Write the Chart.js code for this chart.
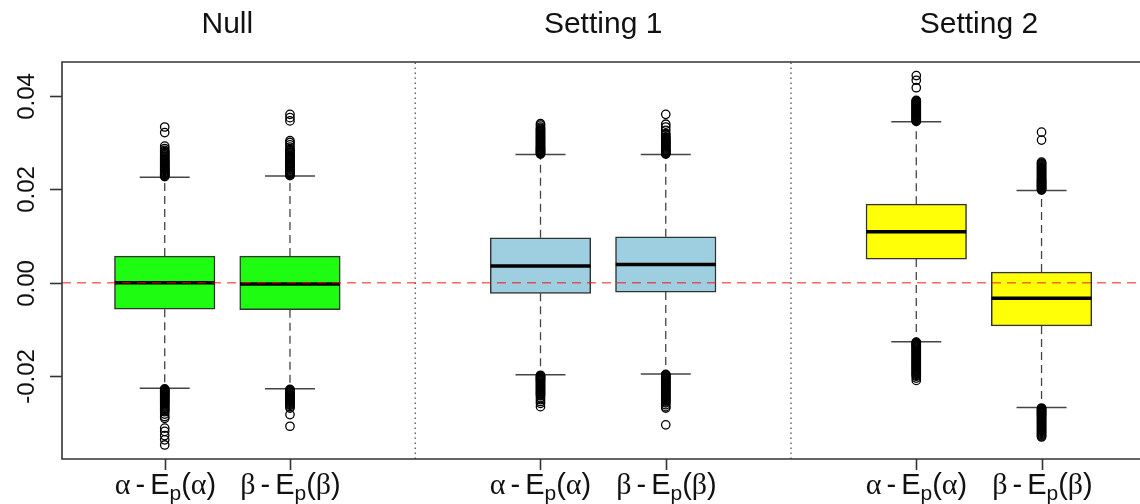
<!DOCTYPE html>
<html>
<head>
<meta charset="utf-8">
<script src="https://cdn.jsdelivr.net/npm/chart.js@4.4.1/dist/chart.umd.min.js"></script>
<style>
  html, body { margin: 0; padding: 0; background: #fff; }
  canvas { display: block; }
</style>
</head>
<body>
<canvas id="boxChart" width="1140" height="504"></canvas>
<script>
// ---- data ----
const panelTitles = ['Null', 'Setting 1', 'Setting 2'];
const tickLabels = ['α - E_p(α)', 'β - E_p(β)', 'α - E_p(α)', 'β - E_p(β)', 'α - E_p(α)', 'β - E_p(β)'];
const boxPositions = [1, 2, 4, 5, 7, 8];

const lowerWhisker = [-0.02255, -0.0227, -0.0197, -0.0195, -0.0126, -0.0267];
const q1 = [-0.00568, -0.00576, -0.00227, -0.00200, 0.00506, -0.00924];
const medians = [0.0000, -0.0003, 0.00357, 0.0039, 0.01089, -0.00333];
const q3 = [0.0057, 0.0057, 0.0096, 0.00982, 0.0168, 0.00228];
const upperWhisker = [0.02256, 0.0228, 0.0274, 0.0274, 0.0344, 0.0197];

// outliers: the dense part next to the caps has many overlapping points
const outNullAlpha = [0.0227, 0.0230, 0.0233, 0.0236, 0.0240, 0.0243, 0.0247, 0.0251, 0.0255, 0.0259,
  0.0263, 0.0268, 0.0273, 0.0278, 0.0283, 0.0287, 0.0292, 0.0321, 0.0333,
  0.02285, 0.02315, 0.02345, 0.0238, 0.02415, 0.0245, 0.0249, 0.0253, 0.0257, 0.0261, 0.0265,
  0.02705, 0.02755, 0.02805,
  -0.0227, -0.0230, -0.0233, -0.0237, -0.0240, -0.0244, -0.0248, -0.0252, -0.0256, -0.0261,
  -0.0266, -0.0271, -0.0276, -0.0281, -0.0286, -0.0290, -0.0311, -0.0318, -0.0327, -0.0336, -0.0347,
  -0.02285, -0.02315, -0.0235, -0.02385, -0.0242, -0.0246, -0.0250, -0.0254, -0.02585, -0.02635,
  -0.02685, -0.02735];
const outNullBeta = [0.0229, 0.0232, 0.0235, 0.0239, 0.0243, 0.0247, 0.0251, 0.0255, 0.0260, 0.0265,
  0.0270, 0.0275, 0.0280, 0.0285, 0.0290, 0.0295, 0.0300, 0.0304, 0.0346, 0.0353, 0.0360,
  0.02305, 0.02335, 0.0237, 0.0241, 0.0245, 0.0249, 0.0253, 0.02575, 0.02625, 0.02675, 0.02725,
  0.02775, 0.02825,
  -0.0228, -0.0231, -0.0234, -0.0238, -0.0242, -0.0246, -0.0250, -0.0254, -0.0258, -0.0262,
  -0.0265, -0.0268, -0.0282, -0.0307,
  -0.02295, -0.02325, -0.0236, -0.0240, -0.0244, -0.0248, -0.0252, -0.0256, -0.0260];
const outSet1Alpha = [0.0275, 0.0278, 0.0281, 0.0284, 0.0287, 0.0290, 0.0294, 0.0298, 0.0302, 0.0306,
  0.0310, 0.0314, 0.0318, 0.0322, 0.0326, 0.0330, 0.0333, 0.0337, 0.0340,
  0.02765, 0.02795, 0.02825, 0.02855, 0.02885, 0.0292, 0.0296, 0.0300, 0.0304, 0.0308, 0.0312,
  0.0316, 0.0320, 0.0324, 0.0328,
  -0.0198, -0.0201, -0.0204, -0.0207, -0.0210, -0.0214, -0.0218, -0.0222, -0.0226, -0.0230,
  -0.0234, -0.0238, -0.0242, -0.0246, -0.0250, -0.0254, -0.0258, -0.0265,
  -0.01995, -0.02025, -0.02055, -0.02085, -0.0212, -0.0216, -0.0220, -0.0224, -0.0228, -0.0232,
  -0.0236, -0.0240];
const outSet1Beta = [0.0275, 0.0278, 0.0281, 0.0284, 0.0288, 0.0292, 0.0296, 0.0300, 0.0304, 0.0308,
  0.0312, 0.0316, 0.0319, 0.0326, 0.0333, 0.0339, 0.0360,
  0.02765, 0.02795, 0.02825, 0.0286, 0.0290, 0.0294, 0.0298, 0.0302, 0.0306, 0.0310,
  -0.0196, -0.0199, -0.0202, -0.0205, -0.0209, -0.0213, -0.0217, -0.0221, -0.0225, -0.0229,
  -0.0233, -0.0237, -0.0241, -0.0245, -0.0249, -0.0253, -0.0257, -0.0261, -0.0265, -0.0268, -0.0304,
  -0.01975, -0.02005, -0.02035, -0.0207, -0.0211, -0.0215, -0.0219, -0.0223, -0.0227, -0.0231,
  -0.0235, -0.0239, -0.0243, -0.0247, -0.0251, -0.0255];
const outSet2Alpha = [0.0345, 0.0348, 0.0351, 0.0354, 0.0357, 0.0360, 0.0363, 0.0366, 0.0369, 0.0372,
  0.0375, 0.0378, 0.0381, 0.0384, 0.0387, 0.0390, 0.0417, 0.0433, 0.0443,
  0.03465, 0.03495, 0.03525, 0.03555, 0.03585, 0.03615, 0.03645, 0.03675, 0.03705, 0.03735,
  0.03765, 0.03795, 0.03825, 0.03855, 0.03885,
  -0.0127, -0.0130, -0.0133, -0.0136, -0.0140, -0.0144, -0.0148, -0.0152, -0.0156, -0.0160,
  -0.0164, -0.0168, -0.0172, -0.0176, -0.0180, -0.0184, -0.0188, -0.0192, -0.0196, -0.0200,
  -0.0204, -0.0209,
  -0.01285, -0.01315, -0.01345, -0.0138, -0.0142, -0.0146, -0.0150, -0.0154, -0.0158, -0.0162,
  -0.0166, -0.0170, -0.0174, -0.0178, -0.0182, -0.0186, -0.0190, -0.0194, -0.0198];
const outSet2Beta = [0.0198, 0.0201, 0.0204, 0.0207, 0.0210, 0.0213, 0.0216, 0.0219, 0.0222, 0.0226,
  0.0230, 0.0234, 0.0238, 0.0242, 0.0246, 0.0250, 0.0254, 0.0258, 0.0305, 0.0322,
  0.01995, 0.02025, 0.02055, 0.02085, 0.02115, 0.02145, 0.02175, 0.02205, 0.0224, 0.0228,
  0.0232, 0.0236, 0.0240, 0.0244, 0.0248, 0.0252, 0.0256,
  -0.0268, -0.0271, -0.0274, -0.0277, -0.0280, -0.0283, -0.0286, -0.0290, -0.0294, -0.0298,
  -0.0302, -0.0306, -0.0310, -0.0314, -0.0318, -0.0322, -0.0326, -0.0330,
  -0.02695, -0.02725, -0.02755, -0.02785, -0.02815, -0.02845, -0.0288, -0.0292, -0.0296, -0.0300,
  -0.0304, -0.0308, -0.0312, -0.0316, -0.0320, -0.0324, -0.0328];
const outliers = [outNullAlpha, outNullBeta, outSet1Alpha, outSet1Beta, outSet2Alpha, outSet2Beta];

const yTickValues = [-0.02, 0, 0.02, 0.04];
const yTickLabels = ['-0.02', '0.00', '0.02', '0.04'];
const referenceLine = 0;

// ---- styling ----
const boxFill = ['#1efc12', '#1efc12', '#9ecfe0', '#9ecfe0', '#ffff08', '#ffff08'];
const Y_MIN = -0.0377, Y_MAX = 0.0472;
const X_MIN = 0.18, X_MAX = 8.786;
const SANS = '"Liberation Sans", Arial, sans-serif';
const GREEK = '"Liberation Serif", serif';

// whisker segments, separated by gaps
const whiskerData = [];
boxPositions.forEach((x, i) => {
    whiskerData.push({x: x, y: q3[i]}, {x: x, y: upperWhisker[i]}, {x: x, y: null});
    whiskerData.push({x: x, y: q1[i]}, {x: x, y: lowerWhisker[i]}, {x: x, y: null});
});

// panel dividers half way between the groups
const dividerData = [];
for (let g = 1; g < panelTitles.length; g++) {
    const x = (boxPositions[2 * g - 1] + boxPositions[2 * g]) / 2;
    dividerData.push({x: x, y: Y_MIN}, {x: x, y: Y_MAX}, {x: x, y: null});
}

const capData = [];
boxPositions.forEach((x, i) => {
    capData.push({x: x, y: upperWhisker[i]}, {x: x, y: lowerWhisker[i]});
});

const outlierData = [];
outliers.forEach((list, i) => {
    list.forEach(v => outlierData.push({x: boxPositions[i], y: v}));
});

// draw "α - E_p(α)" with a real subscript
function drawMathLabel(ctx, text, cx, baseline) {
    const parts = [];
    for (let i = 0; i < text.length; i++) {
        const ch = text[i];
        if (ch === '_') {
            parts.push({t: text[i + 1], font: '21px ' + SANS, dy: 6});
            i++;
        } else if (ch === ' ') {
            parts.push({gap: 5});
        } else if (/[α-ω]/.test(ch)) {
            parts.push({t: ch, font: '30px ' + GREEK, dy: 0});
        } else {
            parts.push({t: ch, font: '29px ' + SANS, dy: 0});
        }
    }
    let total = 0;
    parts.forEach(p => {
        if (p.gap) { p.w = p.gap; } else { ctx.font = p.font; p.w = ctx.measureText(p.t).width; }
        total += p.w;
    });
    let x = cx - total / 2;
    ctx.textAlign = 'left';
    ctx.textBaseline = 'alphabetic';
    parts.forEach(p => {
        if (!p.gap) {
            ctx.font = p.font;
            ctx.fillText(p.t, x, baseline + p.dy);
        }
        x += p.w;
    });
}

const axesPlugin = {
    id: 'rAxes',
    afterDraw(chart) {
        const ctx = chart.ctx;
        const a = chart.chartArea;
        const xs = chart.scales.x;
        const ys = chart.scales.y;
        ctx.save();

        // frame: top, left, bottom (right edge falls off the canvas)
        ctx.strokeStyle = '#333';
        ctx.lineWidth = 1.6;
        ctx.beginPath();
        ctx.moveTo(a.right + 5, a.top);
        ctx.lineTo(a.left, a.top);
        ctx.lineTo(a.left, a.bottom);
        ctx.lineTo(a.right + 5, a.bottom);
        ctx.stroke();

        // y axis ticks + vertical labels
        ctx.fillStyle = '#111';
        ctx.font = '24px ' + SANS;
        yTickValues.forEach((v, i) => {
            const py = Math.round(ys.getPixelForValue(v)) + 0.5;
            ctx.beginPath();
            ctx.moveTo(a.left - 12, py);
            ctx.lineTo(a.left, py);
            ctx.stroke();
            ctx.save();
            ctx.translate(33.5, py);
            ctx.rotate(-Math.PI / 2);
            ctx.textAlign = 'center';
            ctx.textBaseline = 'alphabetic';
            ctx.fillText(yTickLabels[i], 0, 0);
            ctx.restore();
        });

        // x axis ticks + labels
        boxPositions.forEach((v, i) => {
            const px = Math.round(xs.getPixelForValue(v)) + 0.5;
            ctx.beginPath();
            ctx.moveTo(px, a.bottom);
            ctx.lineTo(px, a.bottom + 11);
            ctx.stroke();
            drawMathLabel(ctx, tickLabels[i], px, 494);
        });

        // panel titles
        ctx.font = '30px ' + SANS;
        ctx.textAlign = 'center';
        ctx.textBaseline = 'alphabetic';
        panelTitles.forEach((t, g) => {
            const cx = xs.getPixelForValue((boxPositions[2 * g] + boxPositions[2 * g + 1]) / 2);
            ctx.fillText(t, cx, 33);
        });
        ctx.restore();
    }
};

new Chart(document.getElementById('boxChart'), {
    type: 'bar',
    data: {
        datasets: [
            {
                type: 'line',
                label: 'dividers',
                data: dividerData,
                borderColor: '#555',
                borderWidth: 1.3,
                borderDash: [1.5, 3.5],
                pointRadius: 0,
                spanGaps: false,
                order: 7
            },
            {
                type: 'line',
                label: 'whiskers',
                data: whiskerData,
                borderColor: '#444',
                borderWidth: 1.3,
                borderDash: [8, 5],
                pointRadius: 0,
                spanGaps: false,
                order: 6
            },
            {
                type: 'bar',
                label: 'IQR',
                data: boxPositions.map((x, i) => ({x: x, y: [q1[i], q3[i]]})),
                backgroundColor: boxFill,
                borderColor: '#333',
                borderWidth: 1.5,
                borderSkipped: false,
                barThickness: 100.5,
                grouped: false,
                order: 5
            },
            {
                type: 'scatter',
                label: 'caps',
                data: capData,
                pointStyle: 'line',
                pointRadius: 25,
                borderColor: '#444',
                borderWidth: 1.5,
                order: 4
            },
            {
                type: 'scatter',
                label: 'median',
                data: boxPositions.map((x, i) => ({x: x, y: medians[i]})),
                pointStyle: 'line',
                pointRadius: 50,
                borderColor: '#000',
                borderWidth: 3.5,
                order: 3
            },
            {
                type: 'scatter',
                label: 'outliers',
                data: outlierData,
                pointStyle: 'circle',
                pointRadius: 4.2,
                backgroundColor: 'rgba(0,0,0,0)',
                borderColor: '#000',
                borderWidth: 1.3,
                order: 2
            },
            {
                type: 'line',
                label: 'zero',
                data: [{x: X_MIN, y: referenceLine}, {x: X_MAX, y: referenceLine}],
                borderColor: 'rgba(255,0,0,0.6)',
                borderWidth: 1.5,
                borderDash: [9, 6],
                pointRadius: 0,
                order: 1
            }
        ]
    },
    options: {
        responsive: false,
        devicePixelRatio: 1,
        animation: false,
        events: [],
        layout: {
            autoPadding: false,
            padding: {left: 62, top: 62, right: 0, bottom: 45}
        },
        plugins: {
            legend: {display: false},
            tooltip: {enabled: false}
        },
        scales: {
            x: {type: 'linear', min: X_MIN, max: X_MAX, offset: false, display: false},
            y: {type: 'linear', min: Y_MIN, max: Y_MAX, display: false}
        }
    },
    plugins: [axesPlugin]
});
</script>
</body>
</html>
